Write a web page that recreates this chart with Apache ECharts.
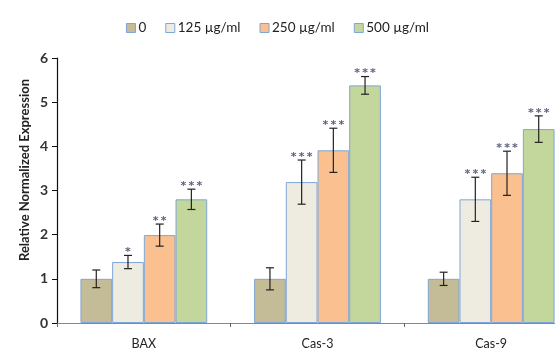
<!DOCTYPE html>
<html><head><meta charset="utf-8">
<script src="https://cdn.jsdelivr.net/npm/echarts@6/dist/echarts.min.js"></script>
<style>html,body{margin:0;padding:0;background:#fff}#c{width:555px;height:351px}</style>
</head><body><div id="c"></div>
<script>
var categories = ['BAX', 'Cas-3', 'Cas-9'];
var seriesNames = ['0', '125 µg/ml', '250 µg/ml', '500 µg/ml'];
var values0 = [1.0, 1.0, 1.0];
var values125 = [1.38, 3.19, 2.8];
var values250 = [1.99, 3.91, 3.39];
var values500 = [2.8, 5.38, 4.39];
var err0 = [0.2, 0.25, 0.15];
var err125 = [0.15, 0.5, 0.5];
var err250 = [0.25, 0.5, 0.5];
var err500 = [0.23, 0.2, 0.3];
var stars0 = ['', '', ''];
var stars125 = ['*', '***', '***'];
var stars250 = ['**', '***', '***'];
var stars500 = ['***', '***', '***'];
var yTicks = [0, 1, 2, 3, 4, 5, 6];

var colors = ['#c4bc96', '#eeece1', '#fac090', '#c3d69b'];
var allVals = [values0, values125, values250, values500];
var allErr = [err0, err125, err250, err500];
var allStars = [stars0, stars125, stars250, stars500];
var occupy = 0.73;

var series = [];
allVals.forEach(function (vals, i) {
  series.push({
    name: seriesNames[i], type: 'bar', data: vals, barGap: '0%', barCategoryGap: '27%',
    itemStyle: { color: colors[i], borderColor: '#7ea6d8', borderWidth: 1 }
  });
});
allVals.forEach(function (vals, i) {
  var data = vals.map(function (v, k) { return [k, v, allErr[i][k]]; });
  series.push({
    type: 'custom', silent: true, z: 5, clip: false,
    data: data,
    encode: { x: 0, y: 1 },
    renderItem: function (params, api) {
      var k = api.value(0), v = api.value(1), e = api.value(2);
      var band = api.size([1, 0])[0];
      var bw = band * occupy / 4;
      var cx = api.coord([k, v])[0] - band * occupy / 2 + bw * (i + 0.5);
      var yt = api.coord([k, v + e])[1];
      var yb = api.coord([k, v - e])[1];
      var cap = 4;
      var st = { stroke: '#222', lineWidth: 1.2 };
      var children = [
        { type: 'line', shape: { x1: cx, y1: yt, x2: cx, y2: yb }, style: st },
        { type: 'line', shape: { x1: cx - cap, y1: yt, x2: cx + cap, y2: yt }, style: st },
        { type: 'line', shape: { x1: cx - cap, y1: yb, x2: cx + cap, y2: yb }, style: st }
      ];
      var s = allStars[i][k];
      if (s) {
        children.push({ type: 'text', style: { text: s.split('').join('\u2009'), x: cx, y: yt - 3, align: 'center', verticalAlign: 'middle', fill: '#5b5f80', font: 'bold 11px "DejaVu Sans"' } });
      }
      return { type: 'group', children: children };
    }
  });
});

var chart = echarts.init(document.getElementById('c'));
chart.setOption({
  animation: false,
  legend: {
    data: seriesNames, top: 16, left: 'center', icon: 'rect', itemWidth: 9, itemHeight: 9, itemGap: 19,
    itemStyle: { borderColor: '#7ea6d8', borderWidth: 1 },
    textStyle: { fontFamily: 'Lato', fontSize: 13.5, color: '#222', padding: [0, 0, 0, -2] }
  },
  grid: { left: 57, width: 521, top: 58, bottom: 28, containLabel: false, outerBoundsMode: 'none' },
  xAxis: {
    type: 'category', data: categories,
    axisLine: { lineStyle: { color: '#888', width: 1 } },
    axisTick: { show: true, length: 4, lineStyle: { color: '#666' } },
    axisLabel: { fontFamily: 'Lato', fontSize: 12.5, color: '#222', margin: 14 }
  },
  yAxis: {
    type: 'value', min: 0, max: 6, interval: 1,
    axisLine: { show: true, lineStyle: { color: '#111', width: 1.2 } },
    axisTick: { show: true, length: 5, lineStyle: { color: '#111' } },
    splitLine: { show: false },
    axisLabel: { fontFamily: 'Lato', fontSize: 14, fontWeight: 'bold', color: '#333', margin: 9,
      formatter: function (v) { return yTicks.indexOf(v) >= 0 ? String(v) : ''; } }
  },
  graphic: [{
    type: 'text', x: 25, y: 170, rotation: Math.PI / 2,
    style: { text: 'Relative Normalized Expression', fill: '#222', font: 'bold 13px Lato', align: 'center', verticalAlign: 'middle' }
  }],
  series: series
});
</script></body></html>
